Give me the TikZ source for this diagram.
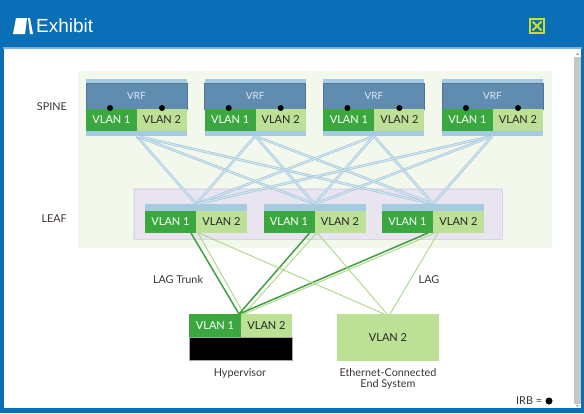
\documentclass[tikz,border=0pt]{standalone}
\usepackage{fontspec}
\setmainfont{Lato}
\newfontfamily\titlefont{Liberation Sans}
\definecolor{winblue}{RGB}{10,111,182}
\definecolor{edgeblue}{RGB}{120,175,215}
\definecolor{paleg}{RGB}{243,248,236}
\definecolor{lav}{RGB}{232,228,240}
\definecolor{lav2}{RGB}{218,212,230}
\definecolor{strip}{RGB}{165,203,226}
\definecolor{vrf}{RGB}{96,140,176}
\definecolor{vrfedge}{RGB}{78,118,152}
\definecolor{vrftext}{RGB}{220,232,242}
\definecolor{dkg}{RGB}{58,168,62}
\definecolor{ltg}{RGB}{188,224,150}
\definecolor{linkblue}{RGB}{160,198,222}
\definecolor{linkbluein}{RGB}{214,231,241}
\definecolor{linkdk}{RGB}{62,160,64}
\definecolor{linklt}{RGB}{170,216,130}
\definecolor{lbl}{RGB}{60,52,56}
\definecolor{closey}{RGB}{200,225,40}
\definecolor{scroll}{RGB}{196,200,196}
\begin{document}
\begin{tikzpicture}[x=1pt,y=-1pt,
  box/.style={draw=none,inner sep=0pt,outer sep=0pt,anchor=north west},
  v1/.style={box,fill=dkg,text=white,font=\fontsize{11}{12}\selectfont,minimum width=51pt,minimum height=22pt},
  v2/.style={box,fill=ltg,text=black!85,font=\fontsize{11}{12}\selectfont,minimum width=51pt,minimum height=22pt},
  lab/.style={text=lbl,font=\fontsize{10.8}{12}\selectfont,inner sep=0pt},
  bluelink/.style={draw=linkblue,line width=0.7pt,double=linkbluein,double distance=1.1pt},
  trunk/.style={draw=linkdk,line width=1.5pt},
  lag/.style={draw=linklt,line width=0.9pt},
  irb/.style={circle,fill=black,inner sep=0pt,minimum size=6pt}
]
\useasboundingbox (0,0) rectangle (584,413);
% window
\fill[winblue] (0,0) rectangle (584,413);
\fill[edgeblue] (3,47) rectangle (582,49);
\fill[white] (4,49) rectangle (574,408);
\fill[scroll] (574,57) rectangle (581,404);
\fill[white] (574,49) rectangle (581,57);
\fill[white] (574,404) rectangle (581,408);
\fill[gray!60] (575.5,55) -- (579.5,55) -- (577.5,52.5) -- cycle;
\fill[gray!60] (575.5,405) -- (579.5,405) -- (577.5,407) -- cycle;
% title icon (easel)
\fill[white] (16,18) -- (27,18) -- (25,34) -- (13,34) -- cycle;
\fill[white] (28,18) -- (30,18) -- (33,34) -- (30,34) -- cycle;
\node[anchor=west,text=white,inner sep=0pt,font=\titlefont\fontsize{19}{20}\selectfont] (title) at (36,26) {Exhibit};
\node[draw=closey,line width=1.6pt,minimum size=14pt,inner sep=0pt] (close) at (537,26) {};
\draw[closey,line width=1.8pt] (532.5,21.5) -- (541.5,30.5) (541.5,21.5) -- (532.5,30.5);
% backgrounds
\fill[paleg] (78,71) rectangle (552,248);
\fill[lav] (133,188) rectangle (503,240);
\draw[lav2,line width=0.8pt] (134,189) rectangle (502,239);
% spines
\foreach \i/\x in {1/86,2/204.7,3/323.4,4/442} {
  \node[box,fill=strip,minimum width=101pt,minimum height=57pt] (s\i) at (\x,79) {};
  \node[box,fill=vrf,draw=vrfedge,line width=0.5pt,minimum width=101pt,minimum height=26pt,text=vrftext,font=\fontsize{10}{11}\selectfont] (vrf\i) at (\x,83) {VRF};
  \node[v1,minimum width=51pt] (s\i a) at (\x,109) {VLAN 1};
  \node[v2,minimum width=50pt] (s\i b) at (\x+51,109) {VLAN 2};
  \node[irb] (d\i a) at (\x+24,108) {};
  \node[irb] (d\i b) at (\x+76,108) {};
}
% leaves
\foreach \j/\x in {1/145,2/263.5,3/382} {
  \node[box,fill=strip,minimum width=102pt,minimum height=29pt] (l\j) at (\x,204) {};
}
\foreach \i in {1,2,3,4} {
  \foreach \j in {1,2,3} {
    \draw[bluelink] (s\i.south) -- (l\j.north);
  }
}
\foreach \j/\x in {1/145,2/263.5,3/382} {
  \node[box,fill=strip,minimum width=102pt,minimum height=7pt] (ls\j) at (\x,204) {};
  \node[v1] (l\j a) at (\x,211) {VLAN 1};
  \node[v2] (l\j b) at (\x+51,211) {VLAN 2};
}
% hosts
\node[box,fill=black,draw=gray!70,line width=0.5pt,minimum width=103pt,minimum height=23pt] (hvb) at (189,337) {};
\node[v1,minimum width=52pt,minimum height=23pt] (ha) at (189,314) {VLAN 1};
\node[v2,minimum width=51pt,minimum height=23pt] (hb) at (241,314) {VLAN 2};
\node[box,fill=ltg,minimum width=102pt,minimum height=47pt,text=black!85,font=\fontsize{11}{12}\selectfont] (es) at (337,314) {VLAN 2};
\coordinate (hvtop) at (ha.north east);
% links to hosts
\foreach \j in {1,2,3} {
  \draw[lag] ([xshift=2pt]l\j a.south east) -- ([xshift=3pt]hvtop);
  \draw[trunk] ([xshift=-5pt]l\j a.south east) -- ([xshift=-2pt]hvtop);
}
\draw[lag] ([xshift=3pt]l1b.south west) -- ([xshift=-4pt]es.north);
\draw[lag] ([xshift=3pt]l2b.south west) -- ([xshift=-1pt]es.north);
\draw[lag] ([xshift=5pt]l3b.south west) -- ([xshift=2pt]es.north);
% labels
\node[lab,anchor=east] (spine) at (67,107) {SPINE};
\node[lab,anchor=east] (leaf) at (67,219) {LEAF};
\node[lab] (lagt) at (178,280) {LAG Trunk};
\node[lab] (lagl) at (429,280) {LAG};
\node[lab] (hyp) at (240,373) {Hypervisor};
\node[lab,align=center] (esl) at (388,379) {Ethernet-Connected\\[-1pt]End System};
\node[lab,anchor=west] (irbl) at (516,401) {IRB =};
\node[irb,minimum size=7pt] (irbd) at (549,401) {};
\end{tikzpicture}
\end{document}
